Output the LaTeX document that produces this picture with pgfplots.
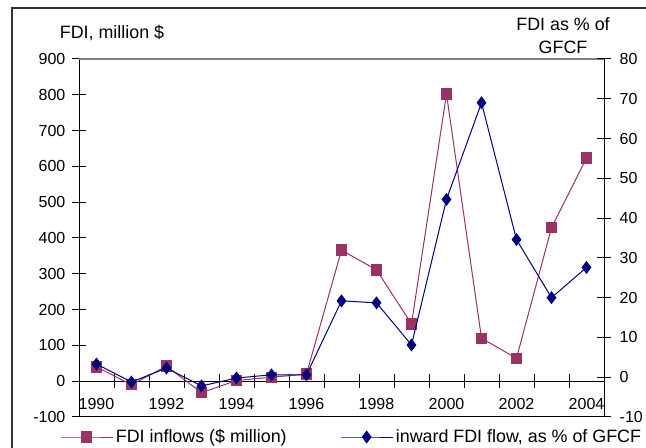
\documentclass[border=0pt]{standalone}
\usepackage{fontspec}
\setmainfont{Liberation Sans}
\usepackage{pgfplots}
\pgfplotsset{compat=1.18}
\definecolor{plum}{HTML}{993366}
\definecolor{navy}{HTML}{000080}
\newcommand\f{\fontsize{12pt}{14pt}\selectfont}
\newcommand\g{\fontsize{13.4pt}{15pt}\selectfont}
\begin{document}
\begin{tikzpicture}
\path[use as bounding box] (0pt,0pt) rectangle (484.5pt,336pt);
\draw[black!80, line width=1.3pt] (9pt,-5pt) -- (9pt,330pt) -- (495pt,330pt);
\node[font=\g] at (84pt,311.25pt) {FDI, million \$};
\node[font=\fontsize{13.4pt}{17.25pt}\selectfont, align=center] at (422.25pt,309.4pt) {FDI as \% of\\GFCF};
\begin{axis}[
  at={(59.25pt,23.25pt)}, anchor=south west,
  scale only axis, width=393.75pt, height=268.5pt,
  xmin=1989.5, xmax=2004.5, ymin=-100, ymax=900,
  axis y line*=left, axis x line*=middle,
  axis line style={line width=0.75pt, black},
  ytick={-100,0,100,200,300,400,500,600,700,800,900},
  ytick style={line width=0.75pt, black},
  y tick label style={font=\f, xshift=-1.5pt},
  /pgf/number format/assume math mode=true,
  tick align=center, major tick length=10.5pt,
  xtick={1990.5,1991.5,1992.5,1993.5,1994.5,1995.5,1996.5,1997.5,1998.5,1999.5,2000.5,2001.5,2002.5,2003.5},
  xticklabels={},
  x tick style={line width=0.75pt, black},
  extra x ticks={1990,1992,1994,1996,1998,2000,2002,2004},
  extra x tick labels={1990,1992,1994,1996,1998,2000,2002,2004},
  extra x tick style={major tick length=0pt, tick label style={font=\f, yshift=-9pt}},
  legend style={at={(-0.0362,-0.0559)}, anchor=west, draw=none, fill=none, inner sep=0pt, font=\g},
  legend image code/.code={\draw[mark repeat=2,mark phase=2,#1] plot coordinates {(0pt,0pt) (19.5pt,0pt) (39pt,0pt)};},
  clip=false,
]
\draw[black, line width=0.75pt] (rel axis cs:0,0) -- (rel axis cs:1,0);
\draw[gray, line width=1pt] (rel axis cs:0,1) -- (rel axis cs:1,1);
\addplot[plum, line width=0.75pt, mark=square*, mark size=3.9pt, mark options={solid, fill=plum}] coordinates {
(1990,40) (1991,-10) (1992,42) (1993,-32) (1994,2) (1995,11) (1996,20)
(1997,366) (1998,311) (1999,160) (2000,802) (2001,120) (2002,64) (2003,429) (2004,623)};
\addlegendentry{FDI inflows (\$ million)}
\end{axis}
\begin{axis}[
  at={(59.25pt,23.25pt)}, anchor=south west,
  scale only axis, width=393.75pt, height=268.5pt,
  xmin=1989.5, xmax=2004.5, ymin=-10, ymax=80,
  axis y line*=right, axis x line=none,
  axis line style={line width=0.75pt, black},
  ytick={-10,0,10,20,30,40,50,60,70,80},
  ytick style={line width=0.75pt, black},
  y tick label style={font=\f, xshift=3pt},
  /pgf/number format/assume math mode=true,
  tick align=center, major tick length=10.5pt,
  legend style={at={(0.497,-0.0559)}, anchor=west, draw=none, fill=none, inner sep=0pt, font=\g},
  legend image code/.code={\draw[mark repeat=2,mark phase=2,#1] plot coordinates {(0pt,0pt) (19.5pt,0pt) (39pt,0pt)};},
  clip=false,
]
\addplot[navy, line width=0.75pt, mark=diamond*, mark size=4.3pt, mark options={solid, fill=navy}] coordinates {
(1990,3.3) (1991,-1.2) (1992,2.3) (1993,-2.2) (1994,-0.2) (1995,0.6) (1996,0.6)
(1997,19.2) (1998,18.7) (1999,8.1) (2000,44.7) (2001,69) (2002,34.6) (2003,20) (2004,27.6)};
\addlegendentry{inward FDI flow, as \% of GFCF}
\end{axis}
\end{tikzpicture}
\end{document}
